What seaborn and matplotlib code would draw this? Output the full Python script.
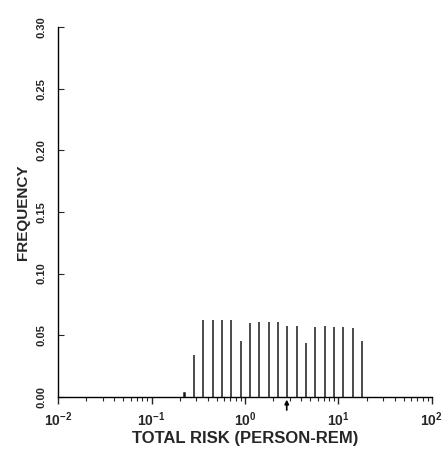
#histograma da frequencia do risco total (escala log)
import numpy as np
import pandas as pd
import matplotlib.pyplot as plt
import seaborn as sns
from matplotlib.ticker import LogLocator, FixedLocator

#dados lidos da figura
#centro de cada barra em log10 (passo de 0.1 decada)
log_centros = [-0.65, -0.55, -0.45, -0.35, -0.25, -0.15, -0.05, 0.05, 0.15, 0.25,
               0.35, 0.45, 0.55, 0.65, 0.75, 0.85, 0.95, 1.05, 1.15, 1.25]
frequencias = [0.003, 0.034, 0.0625, 0.0625, 0.062, 0.062, 0.045, 0.060, 0.061, 0.061,
               0.061, 0.0576, 0.0576, 0.044, 0.0565, 0.0576, 0.0565, 0.0565, 0.0557, 0.0457]
risco_medio = 2.8
y_ticks = [0.00, 0.05, 0.10, 0.15, 0.20, 0.25, 0.30]
x_ticks = [1e-2, 1e-1, 1e0, 1e1, 1e2]
x_labels = ["$\\mathbf{10^{-2}}$", "$\\mathbf{10^{-1}}$", "$\\mathbf{10^{0}}$",
            "$\\mathbf{10^{1}}$", "$\\mathbf{10^{2}}$"]

df = pd.DataFrame({"risco": 10 ** np.array(log_centros), "freq": frequencias})

#estilo
sns.set_theme(style="ticks")
plt.rcParams["font.family"] = ["Liberation Sans", "DejaVu Sans"]
plt.rcParams["font.weight"] = "bold"
plt.rcParams["mathtext.fontset"] = "custom"
plt.rcParams["mathtext.bf"] = "Liberation Sans:bold"
plt.rcParams["mathtext.rm"] = "Liberation Sans:bold"

fig = plt.figure(figsize=(4.47, 4.53), dpi=100)
ax = fig.add_axes([0.130, 0.124, 0.836, 0.816])

#barras bem finas (histograma com peso), so o contorno -> vira uma linha
sns.histplot(
    data=df,
    x="risco",
    weights="freq",
    log_scale=True,
    binwidth=0.1,
    binrange=(-0.7, 1.3),
    shrink=0.003,
    fill=False,
    color="#1a1a1a",
    linewidth=1.1,
    ax=ax
)

ax.set_xlim(1e-2, 1e2)
ax.set_ylim(0, 0.30)
ax.set_xticks(x_ticks)
ax.set_xticklabels(x_labels, fontsize=10)
ax.xaxis.set_minor_locator(LogLocator(base=10, subs=np.arange(2, 10)))
ax.yaxis.set_major_locator(FixedLocator(y_ticks))
ax.set_yticklabels([f"{v:.2f}" for v in y_ticks], rotation=90, va="center",
                   fontsize=8, fontweight="bold")

ax.tick_params(axis="x", which="major", direction="out", length=5, width=1, pad=5)
ax.tick_params(axis="x", which="minor", direction="out", length=3, width=0.8)
ax.tick_params(axis="y", which="major", direction="in", length=4, width=0.8, pad=8)

sns.despine(ax=ax)
for s in ["left", "bottom"]:
    ax.spines[s].set_linewidth(1.0)
    ax.spines[s].set_color("black")

ax.set_xlabel("TOTAL RISK (PERSON-REM)", fontsize=12, fontweight="bold", labelpad=1)
ax.set_ylabel("FREQUENCY", fontsize=11, fontweight="bold")
ax.yaxis.set_label_coords(-0.075, 0.5)

#seta indicando o valor medio
ax.annotate("", xy=(risco_medio, 0), xytext=(risco_medio, -0.013),
            xycoords="data", annotation_clip=False,
            arrowprops=dict(arrowstyle="-|>", color="black", lw=1.2, mutation_scale=6))

plt.savefig("out.png", dpi=100)
